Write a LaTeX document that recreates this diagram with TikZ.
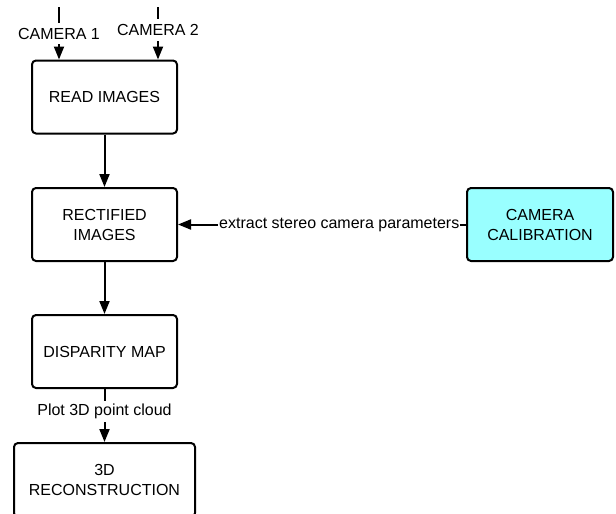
\documentclass[tikz,border=0pt]{standalone}
\usepackage{fontspec}
\setmainfont{Liberation Sans}
\usetikzlibrary{positioning, arrows.meta}
\definecolor{mycyan}{RGB}{153,255,255}
\tikzset{
  stage/.style={draw, rounded corners=4pt, line width=2pt, minimum width=145pt,
    minimum height=73pt, inner sep=0pt, align=center,
    font=\fontsize{16}{20}\selectfont},
  calib/.style={stage, fill=mycyan, minimum width=146pt},
  flow/.style={-{Triangle[length=13pt,width=10pt]}, line width=2pt},
  edgetext/.style={fill=white, inner xsep=1pt, inner ysep=3pt,
    font=\fontsize{16}{20}\selectfont},
  camtext/.style={edgetext, inner ysep=5pt}
}

\begin{document}
\begin{tikzpicture}[x=1pt,y=-1pt]

\clip (0,0) rectangle (616,514);

\node [stage] (read) at (104.5,97) {READ IMAGES};
\node [stage] (rectified) at (104.5,224.5) {RECTIFIED\\IMAGES};
\node [calib] (calibration) at (540,224.5) {CAMERA\\CALIBRATION};
\node [stage] (disparity) at (104.5,351.5) {DISPARITY MAP};
\node [stage, minimum width=181pt, minimum height=74pt] (recon) at (104.5,480) {3D\\RECONSTRUCTION};


%\coordinate (cam1) at (59,0);
\coordinate (cam1) at (59,7);
\coordinate (cam2) at (158,7);
\draw[flow] (cam1) -- node[camtext, pos=0.51] (cam1text) {CAMERA 1} (cam1 |- read.north);
\draw[flow] (cam2) -- node[camtext, pos=0.435] (cam2text) {CAMERA 2} (cam2 |- read.north);


\draw[flow] (read) -- (rectified);
\draw[flow] (calibration.west) -- node[edgetext, pos=0.44] (extracttext) {extract stereo camera parameters} (rectified.east);
\draw[flow] (rectified) -- (disparity);
\draw[flow] (disparity) -- node[edgetext, pos=0.42] (plottext) {Plot 3D point cloud} (recon);


\end{tikzpicture}
\end{document}
